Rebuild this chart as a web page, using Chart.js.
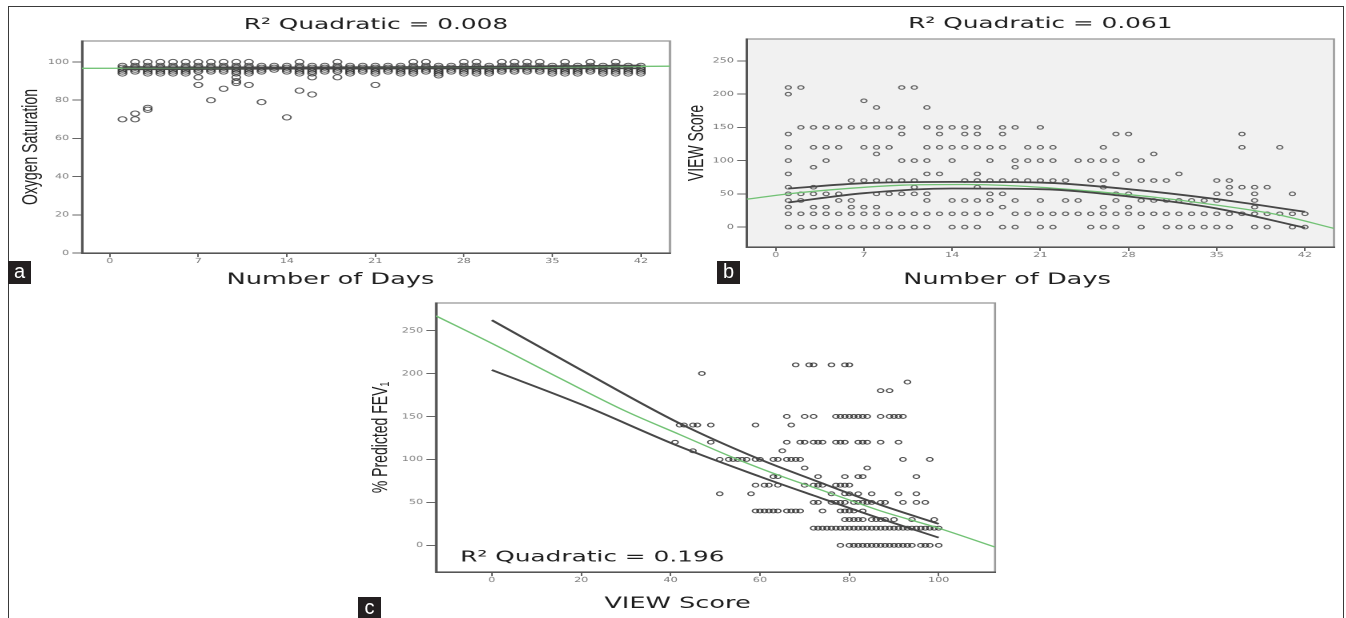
<!DOCTYPE html>
<html>
<head>
<meta charset="utf-8">
<title>Scatter plots with quadratic fits</title>
<script src="https://cdn.jsdelivr.net/npm/chart.js@4.4.1/dist/chart.umd.min.js"></script>
<style>
  html, body { margin: 0; padding: 0; background: #fff; }
  body { width: 1346px; height: 618px; overflow: hidden; position: relative; }
  .frame { position: absolute; left: 8px; top: 6px; width: 1336px; height: 640px; border: 1px solid #3a3a3a; box-sizing: border-box; }
  /* the source figure is stretched sideways, so each panel is drawn narrow and widened */
  .panel { position: absolute; transform: scaleX(1.6); transform-origin: 0 0; }
  .tag { position: absolute; width: 23px; height: 23px; background: #231f20; color: #fff;
         font: 20px 'Liberation Sans', Arial, sans-serif; line-height: 21px; text-align: center; }
</style>
</head>
<body>
<div class="frame"></div>
<div class="panel" style="left:-10px; top:6px; width:430px; height:286px;"><canvas id="oxyChart"></canvas></div>
<div class="panel" style="left:680px; top:6px; width:496px; height:286px;"><canvas id="viewChart"></canvas></div>
<div class="panel" style="left:360px; top:296px; width:424px; height:318px;"><canvas id="fevChart"></canvas></div>
<div class="tag" style="left:8px; top:261px;">a</div>
<div class="tag" style="left:717px; top:261px;">b</div>
<div class="tag" style="left:358px; top:597px;">c</div>
<script>
// ---- panel a: oxygen saturation by day ----
const oxyTicksX = [0, 7, 14, 21, 28, 35, 42];
const oxyTicksY = [0, 20, 40, 60, 80, 100];
const oxyLevels = [100, 98, 97, 96, 95, 94, 93];
const oxyDaysByLevel = [
  [2, 3, 4, 5, 6, 7, 8, 9, 10, 11, 15, 18, 24, 25, 28, 29, 31, 32, 33, 34, 36, 38, 40],
  [1, 2, 3, 4, 5, 6, 7, 8, 9, 10, 11, 12, 13, 14, 15, 16, 17, 18, 19, 20, 21, 22, 23, 24, 25, 26, 27, 28, 29, 30, 31, 32, 33, 34, 35, 36, 37, 38, 39, 40, 41, 42],
  [1, 2, 3, 4, 5, 6, 7, 8, 9, 10, 11, 12, 13, 14, 15, 16, 17, 18, 19, 20, 21, 22, 23, 24, 25, 26, 27, 28, 29, 30, 31, 32, 33, 34, 35, 36, 37, 38, 39, 40, 41, 42],
  [1, 2, 3, 4, 5, 6, 7, 8, 9, 10, 11, 12, 13, 14, 15, 16, 17, 18, 19, 20, 21, 22, 23, 24, 25, 26, 27, 28, 29, 30, 31, 32, 33, 34, 35, 36, 37, 38, 39, 40, 41, 42],
  [1, 2, 3, 4, 5, 6, 7, 8, 9, 10, 11, 12, 14, 15, 16, 17, 18, 19, 20, 21, 22, 23, 24, 25, 26, 27, 28, 29, 30, 31, 32, 33, 34, 35, 36, 37, 38, 39, 40, 41, 42],
  [1, 3, 4, 5, 6, 10, 15, 16, 19, 21, 23, 24, 26, 28, 29, 30, 35, 36, 37, 39, 40, 41, 42],
  [26]
];
const oxyOutDays = [1, 2, 2, 3, 3, 7, 7, 8, 9, 10, 10, 10, 11, 11, 12, 14, 15, 16, 16, 18, 21];
const oxyOutVals = [70, 70, 73, 75, 76, 92, 88, 80, 86, 92, 89, 90, 88, 94, 79, 71, 85, 83, 92, 92, 88];
const oxyFitX = [-2.2, 10, 21, 32, 44.3];
const oxyFitY = [96.7, 96.8, 97.0, 97.3, 97.8];
const oxyBandX = [1, 14, 28, 42];
const oxyBandUp = [97.4, 97.2, 97.5, 98.2];
const oxyBandLo = [96.1, 96.5, 96.6, 96.7];

// ---- panel b: VIEW score by day ----
const viewTicksX = [0, 7, 14, 21, 28, 35, 42];
const viewTicksY = [0, 50, 100, 150, 200, 250];
const viewLevels = [210, 200, 190, 180, 150, 140, 120, 110, 100, 90, 80, 70, 60, 50, 40, 30, 20, 0];
const viewDaysByLevel = [
  [1, 2, 10, 11],
  [1],
  [7],
  [8, 12],
  [2, 3, 4, 5, 6, 7, 8, 9, 10, 12, 13, 14, 15, 16, 18, 19, 21],
  [1, 10, 13, 15, 16, 18, 27, 28, 37],
  [1, 3, 4, 5, 7, 8, 9, 12, 13, 14, 15, 16, 17, 18, 20, 21, 22, 26, 37, 40],
  [8, 30],
  [1, 4, 10, 11, 12, 14, 17, 19, 20, 21, 22, 24, 25, 26, 27, 29],
  [3, 19],
  [1, 12, 13, 16, 27, 32],
  [6, 7, 8, 9, 10, 11, 15, 16, 17, 18, 19, 20, 21, 22, 23, 25, 26, 28, 29, 30, 31, 35, 36],
  [1, 3, 11, 16, 26, 36, 37, 38, 39],
  [1, 2, 3, 4, 5, 8, 9, 10, 11, 12, 17, 18, 27, 28, 35, 36, 38, 41],
  [1, 2, 5, 6, 12, 14, 15, 16, 17, 19, 21, 23, 24, 27, 29, 30, 31, 32, 33, 34, 35, 38],
  [1, 3, 4, 6, 7, 8, 18, 26, 28, 38],
  [1, 2, 3, 4, 5, 6, 7, 8, 9, 10, 11, 12, 13, 14, 15, 16, 17, 19, 20, 21, 22, 23, 24, 25, 26, 27, 28, 29, 30, 31, 32, 33, 34, 35, 36, 37, 38, 39, 40, 41, 42],
  [1, 2, 3, 4, 5, 6, 7, 8, 9, 10, 11, 12, 14, 15, 16, 18, 19, 21, 22, 25, 26, 27, 29, 31, 32, 33, 34, 35, 36, 38, 39, 41, 42]
];
const viewFitX = [-2.3, 1, 5, 10, 15, 20, 25, 30, 35, 40, 44.3];
const viewFitY = [42, 50, 57, 63, 64, 61, 54, 45, 33, 18, -2];
const viewBandX = [1, 7, 14, 21, 28, 35, 42];
const viewBandUp = [58, 66, 68, 67, 57, 42, 23];
const viewBandLo = [37, 51, 58, 57, 46, 28, -1];

// ---- panel c: % predicted FEV1 by VIEW score ----
const fevTicksX = [0, 20, 40, 60, 80, 100];
const fevTicksY = [0, 50, 100, 150, 200, 250];
const fevLevels = [210, 200, 190, 180, 150, 140, 120, 110, 100, 90, 80, 70, 60, 50, 40, 30, 20, 0];
const fevScoresByLevel = [
  [68, 71, 72, 76, 79, 80],
  [47],
  [93],
  [87, 89],
  [66, 70, 72, 77, 78, 79, 80, 81, 82, 83, 84, 87, 89, 90, 91, 92],
  [42, 43, 45, 46, 49, 59, 67],
  [41, 49, 66, 69, 70, 72, 73, 74, 77, 78, 79, 82, 83, 84, 87, 91],
  [45, 65],
  [51, 53, 54, 55, 56, 57, 59, 60, 63, 64, 66, 67, 68, 69, 92, 98],
  [70, 84],
  [63, 64, 73, 79, 82, 83, 95],
  [59, 61, 62, 64, 70, 72, 73, 74, 77, 78, 79, 80],
  [51, 58, 76, 79, 80, 82, 85, 91, 95],
  [72, 73, 76, 77, 78, 79, 81, 82, 83, 84, 85, 87, 88, 92, 95, 97],
  [59, 60, 61, 62, 63, 64, 66, 67, 68, 69, 74, 78, 79, 80, 81, 83],
  [79, 80, 81, 82, 83, 85, 86, 87, 88, 90, 94, 99],
  [72, 73, 74, 75, 76, 77, 78, 79, 80, 81, 82, 83, 84, 85, 86, 87, 88, 89, 90, 91, 92, 93, 94, 95, 96, 97, 98, 99, 100],
  [78, 80, 81, 82, 83, 84, 85, 86, 87, 88, 89, 90, 91, 92, 93, 94, 96, 97, 98, 100]
];
const fevFitX = [-12.5, 0, 15, 30, 42, 55, 65, 75, 87, 100, 112.6];
const fevFitY = [267, 235, 195, 156, 129, 100, 80, 62, 40, 20, -2];
const fevBandX = [0, 20, 42, 60, 72, 87, 100];
const fevBandUp = [262, 204, 142, 100, 76, 47, 25];
const fevBandLo = [204, 164, 115, 80, 58, 31, 9];

const GREEN = '#72c275';
const BAND = '#474747';
const tickFont = { family: 'DejaVu Sans', size: 7 };
const headFont = { family: 'DejaVu Sans', size: 15.5, lineHeight: '18px' };
const axisFont = { family: 'DejaVu Sans', size: 16, lineHeight: '20px' };
const sideFont = { family: 'Liberation Sans', size: 14, lineHeight: '16px' };

function pairs(xs, ys) {
  return xs.map((x, i) => ({ x: x, y: ys[i] }));
}

function levelPoints(levels, lists) {
  const pts = [];
  levels.forEach((lv, i) => {
    lists[i].forEach(x => pts.push({ x: x, y: lv }));
  });
  return pts;
}

// grey box round the plot, optional fill and an optional note inside it
const plotFrame = {
  id: 'plotFrame',
  beforeDraw(chart, args, opts) {
    const { ctx, chartArea: a } = chart;
    ctx.save();
    if (opts.fill) {
      ctx.fillStyle = opts.fill;
      ctx.fillRect(a.left, a.top, a.width, a.height);
    }
    ctx.strokeStyle = '#9a9a9a';
    ctx.lineWidth = 1.3;
    ctx.strokeRect(a.left, a.top, a.width, a.height);
    ctx.restore();
  },
  afterDraw(chart, args, opts) {
    if (!opts.note) return;
    const { ctx, scales } = chart;
    ctx.save();
    ctx.font = '15.5px "DejaVu Sans"';
    ctx.fillStyle = '#1e1e1e';
    ctx.textAlign = 'left';
    ctx.textBaseline = 'middle';
    ctx.fillText(opts.note.text, scales.x.getPixelForValue(opts.note.x), scales.y.getPixelForValue(opts.note.y));
    ctx.restore();
  }
};

function buildChart(canvasId, p) {
  const datasets = [];
  p.lines.forEach(l => {
    datasets.push({
      data: pairs(l.x, l.y),
      showLine: true,
      borderColor: l.color,
      borderWidth: l.width,
      pointRadius: 0,
      cubicInterpolationMode: 'monotone',
      fill: false
    });
  });
  datasets.push({
    data: p.points,
    pointRadius: p.radius,
    pointBorderWidth: 1,
    pointBorderColor: p.pointColor,
    pointBackgroundColor: 'rgba(0,0,0,0)'
  });

  const scales = {
    x: {
      min: p.xMin,
      max: p.xMax,
      afterBuildTicks: s => { s.ticks = p.xTicks.map(v => ({ value: v })); },
      afterFit: s => { s.height = 12; },
      ticks: { font: tickFont, color: '#7a7a7a', padding: 0, maxRotation: 0, autoSkip: false },
      grid: { drawOnChartArea: false, tickLength: 4, color: '#666' },
      border: { color: '#555', width: 1.5 }
    },
    y: {
      min: p.yMin,
      max: p.yMax,
      afterBuildTicks: s => { s.ticks = p.yTicks.map(v => ({ value: v })); },
      afterFit: s => { s.width = p.yWidth; },
      ticks: { font: tickFont, color: '#7a7a7a', padding: 2, autoSkip: false },
      grid: { drawOnChartArea: false, tickLength: 6, color: '#666' },
      border: { color: '#555', width: 1.5 },
      title: { display: true, text: p.yTitle, font: sideFont, color: '#1e1e1e', padding: { top: p.yTitlePad, bottom: 0 } }
    }
  };
  if (p.title) {
    scales.x2 = {
      type: 'linear',
      position: 'top',
      min: p.xMin,
      max: p.xMax,
      afterFit: s => { s.height = p.topHeight; },
      ticks: { display: false },
      grid: { display: false },
      border: { display: false },
      title: { display: true, text: p.title, font: headFont, color: '#1e1e1e', padding: { top: p.titlePad, bottom: 0 } }
    };
  }

  return new Chart(document.getElementById(canvasId), {
    type: 'scatter',
    data: { datasets: datasets },
    plugins: [plotFrame],
    options: {
      responsive: true,
      maintainAspectRatio: false,
      animation: false,
      devicePixelRatio: 2,
      layout: { padding: { left: 0, right: p.padRight, top: p.padTop || 0, bottom: 0 } },
      scales: scales,
      plugins: {
        legend: { display: false },
        tooltip: { enabled: false },
        title: { display: false },
        subtitle: {
          display: true,
          position: 'bottom',
          text: p.xTitle,
          font: axisFont,
          color: '#1e1e1e',
          padding: { top: p.xTitlePad, bottom: p.xTitlePadBottom }
        },
        plotFrame: { fill: p.fill, note: p.note }
      }
    }
  });
}

const oxyPoints = levelPoints(oxyLevels, oxyDaysByLevel).concat(pairs(oxyOutDays, oxyOutVals));

buildChart('oxyChart', {
  points: oxyPoints, radius: 2.6, pointColor: 'rgba(40,40,40,0.75)',
  lines: [
    { x: oxyBandX, y: oxyBandUp, color: BAND, width: 1.6 },
    { x: oxyBandX, y: oxyBandLo, color: BAND, width: 1.6 },
    { x: oxyFitX, y: oxyFitY, color: GREEN, width: 1.3 }
  ],
  xMin: -2.2, xMax: 44.3, xTicks: oxyTicksX,
  yMin: 0, yMax: 111, yTicks: oxyTicksY,
  yWidth: 57.5, yTitle: 'Oxygen Saturation', yTitlePad: 17.6,
  title: 'R² Quadratic = 0.008', topHeight: 35, titlePad: 10,
  xTitle: 'Number of Days', xTitlePad: 5, xTitlePadBottom: 2,
  padRight: 4.4
});

buildChart('viewChart', {
  points: levelPoints(viewLevels, viewDaysByLevel), radius: 1.8, pointColor: 'rgba(45,45,45,0.72)',
  lines: [
    { x: viewBandX, y: viewBandUp, color: BAND, width: 1.8 },
    { x: viewBandX, y: viewBandLo, color: BAND, width: 1.8 },
    { x: viewFitX, y: viewFitY, color: GREEN, width: 1.3 }
  ],
  xMin: -2.3, xMax: 44.3, xTicks: viewTicksX,
  yMin: -30, yMax: 283, yTicks: viewTicksY,
  yWidth: 41.7, yTitle: 'VIEW Score', yTitlePad: 2.6,
  title: 'R² Quadratic = 0.061', topHeight: 33, titlePad: 9,
  xTitle: 'Number of Days', xTitlePad: 11, xTitlePadBottom: 2,
  padRight: 87.25, fill: '#f1f1f1'
});

buildChart('fevChart', {
  points: levelPoints(fevLevels, fevScoresByLevel), radius: 1.9, pointColor: 'rgba(35,35,35,0.8)',
  lines: [
    { x: fevBandX, y: fevBandUp, color: BAND, width: 1.8 },
    { x: fevBandX, y: fevBandLo, color: BAND, width: 1.8 },
    { x: fevFitX, y: fevFitY, color: GREEN, width: 1.3 }
  ],
  xMin: -12.5, xMax: 112.6, xTicks: fevTicksX,
  yMin: -31, yMax: 282, yTicks: fevTicksY,
  yWidth: 47.5, yTitle: '% Predicted FEV₁', yTitlePad: 5.1,
  xTitle: 'VIEW Score', xTitlePad: 10, xTitlePadBottom: 0,
  padRight: 27.1, padTop: 7,
  note: { text: 'R² Quadratic = 0.196', x: -7.1, y: -14.3 }
});
</script>
</body>
</html>
